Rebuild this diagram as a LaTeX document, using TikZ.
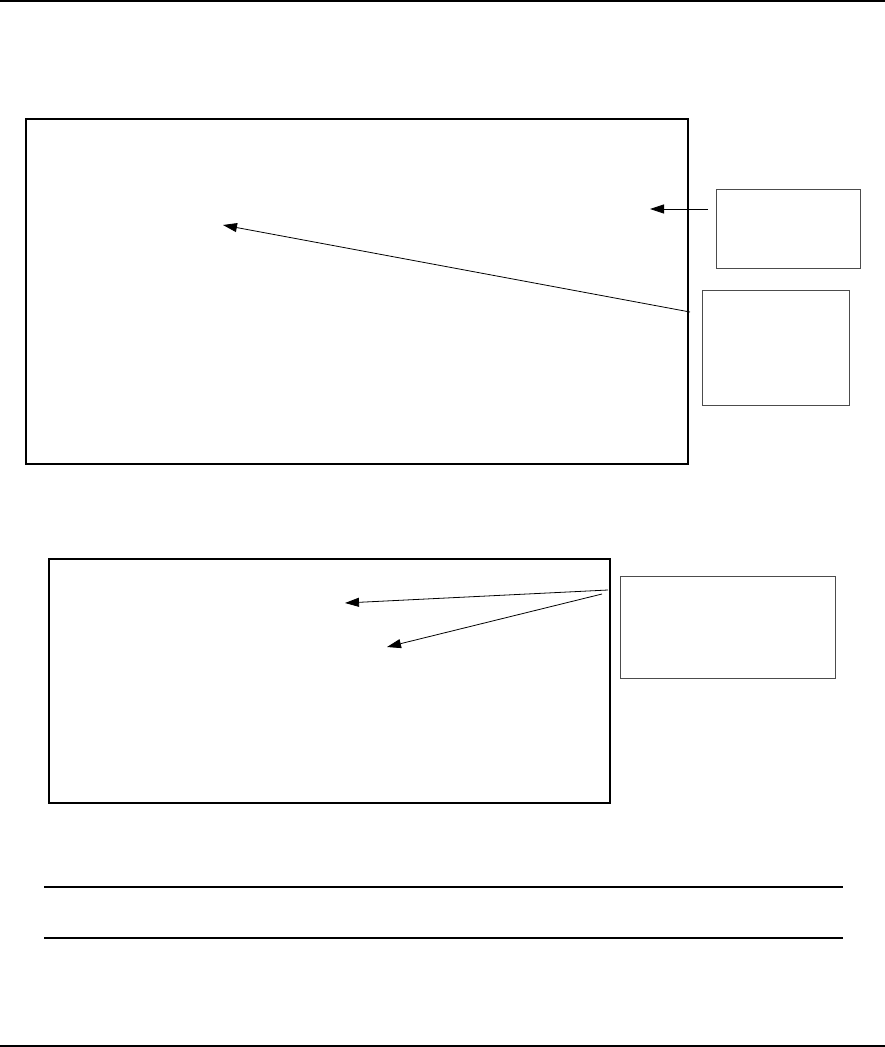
\documentclass[tikz,border=0pt]{standalone}
\usetikzlibrary{arrows.meta}
\begin{document}
\begin{tikzpicture}[x=1pt,y=-1pt,
  panel/.style={draw=black,line width=1.8pt},
  callout/.style={draw=black!70,line width=0.9pt},
  rule/.style={draw=black,line width=1.2pt},
  pointer/.style={draw=black,line width=0.8pt,-{Triangle[length=14pt,width=9pt]}}]
\useasboundingbox (0,0) rectangle (885,1047);
\draw[rule] (0,1) -- (885,1);
\draw[rule] (0,1046) -- (885,1046);
% panel 1
\node[panel,minimum width=662pt,minimum height=345pt,inner sep=0pt,anchor=north west] (p1) at (25,118) {};
\node[callout,minimum width=144pt,minimum height=79pt,inner sep=0pt,anchor=north west] (ca) at (716,189) {};
\node[callout,minimum width=147pt,minimum height=115pt,inner sep=0pt,anchor=north west] (cb) at (702,290) {};
\coordinate (a1s) at (708,209);
\coordinate (a1e) at (650,209);
\coordinate (a2s) at (690,312);
\coordinate (a2e) at (223,225);
\draw[pointer] (a1s) -- (a1e);
\draw[pointer] (a2s) -- (a2e);
% panel 2
\node[panel,minimum width=561pt,minimum height=244pt,inner sep=0pt,anchor=north west] (p2) at (48,558) {};
\node[callout,minimum width=215pt,minimum height=102pt,inner sep=0pt,anchor=north west] (cc) at (620,576) {};
\coordinate (a3s) at (608,590);
\coordinate (a3e) at (345,603);
\coordinate (a4s) at (602,594);
\coordinate (a4e) at (387,647);
\draw[pointer] (a3s) -- (a3e);
\draw[pointer] (a4s) -- (a4e);
% rules
\coordinate (r1l) at (44,887);
\coordinate (r1r) at (843,887);
\coordinate (r2l) at (44,938);
\coordinate (r2r) at (843,938);
\draw[rule] (r1l) -- (r1r);
\draw[rule] (r2l) -- (r2r);
\end{tikzpicture}
\end{document}
